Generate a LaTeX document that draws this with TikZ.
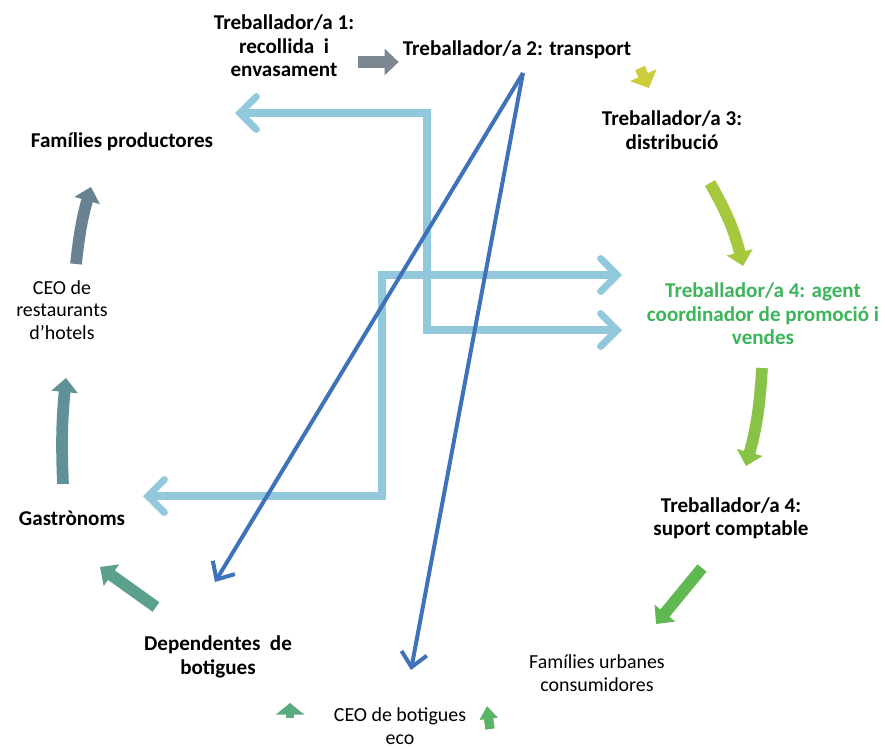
\documentclass[tikz,border=0pt]{standalone}
\usepackage{fontspec}
\setmainfont{Carlito}
\usetikzlibrary{arrows.meta}

\definecolor{lblue}{RGB}{146,200,220}
\definecolor{dblue}{RGB}{62,114,186}
\definecolor{agentgreen}{RGB}{60,180,90}

\tikzset{
  lbl/.style={align=center, font=\fontsize{18}{20}\selectfont\bfseries},
  lblr/.style={align=center, font=\fontsize{17}{19.5}\selectfont},
  blk/.style={line width=10pt, -{Triangle[width=22pt,length=12pt]}},
  lbline/.style={lblue, line width=6pt, line cap=round, line join=miter,
    {Straight Barb[width=28pt,length=14pt,line cap=round]}-{Straight Barb[width=28pt,length=14pt,line cap=round]}},
  dbline/.style={dblue, line width=3.4pt, -{Straight Barb[width=22pt,length=12pt]}},
}

\begin{document}
\begin{tikzpicture}[x=0.03cm, y=-0.03cm]
\useasboundingbox (0,0) rectangle (885,749);

% etiquetes del cicle
\node[lbl] (t1) at (284,46) {Treballador/a 1:\\recollida\ \ i\\envasament};
\node[lbl] (t2) at (517,50) {Treballador/a 2: transport};
\node[lbl] (t3) at (672,130) {Treballador/a 3:\\distribució};
\node[lbl, text=agentgreen] (agent) at (763,314) {Treballador/a 4: agent\\coordinador de promoció i\\vendes};
\node[lbl] (suport) at (731,518) {Treballador/a 4:\\suport comptable};
\node[lblr] (urbanes) at (597,673) {Famílies urbanes\\consumidores};
\node[lblr] (ceoeco) at (400,726) {CEO de botigues\\eco};
\node[lbl] (dependentes) at (218,657) {Dependentes\ \ de\\botigues};
\node[lbl] (gastro) at (72,518) {Gastrònoms};
\node[lblr] (ceorest) at (62,310) {CEO de\\restaurants\\d’hotels};
\node[lbl] (productores) at (122,142) {Famílies productores};

% fletxes del cicle
\draw[blk, color={rgb,255:red,125;green,135;blue,145}] (358,62) -- (t2.west |- 0,62);
\draw[blk, line width=9pt, -{Triangle[width=24pt,length=12pt]}, color={rgb,255:red,205;green,205;blue,60}] (640,68) -- (649,88);
\draw[blk, color={rgb,255:red,165;green,200;blue,60}] (710,183) to[bend left=8] (743,266);
\draw[blk, color={rgb,255:red,135;green,195;blue,70}] (762,368) to[bend left=6] (746,466);
\draw[blk, color={rgb,255:red,95;green,185;blue,80}] (702,568) -- (656,624);
\draw[blk, line width=8pt, -{Triangle[width=15pt,length=11pt]}, color={rgb,255:red,90;green,180;blue,100}] (490,729) -- (487,706);
\draw[blk, line width=6pt, -{Triangle[width=24pt,length=10pt]}, color={rgb,255:red,90;green,170;blue,130}] (290,718) -- (290,703);
\draw[blk, color={rgb,255:red,90;green,160;blue,140}] (156,607) -- (100,567);
\draw[blk, color={rgb,255:red,95;green,145;blue,150}] (63,484) to[bend left=4] (66,378);
\draw[blk, color={rgb,255:red,105;green,130;blue,145}] (76,264) to[bend left=5] (91,187);

% connectors blau clar
\coordinate (pl) at (235,113);
\coordinate (ar1) at (622,330);
\coordinate (gl) at (143,496);
\coordinate (ar2) at (622,275);
\draw[lbline] (pl) -| (427,330) -- (ar1);
\draw[lbline] (gl) -| (382,275) -- (ar2);

% connectors blau fosc des del transport
\coordinate (apex) at (523,73);
\coordinate (dtip) at (215,582);
\coordinate (etip) at (411,670);
\draw[dbline, line join=miter] (apex) -- (dtip);
\draw[dbline] (apex) -- (etip);

\end{tikzpicture}
\end{document}
